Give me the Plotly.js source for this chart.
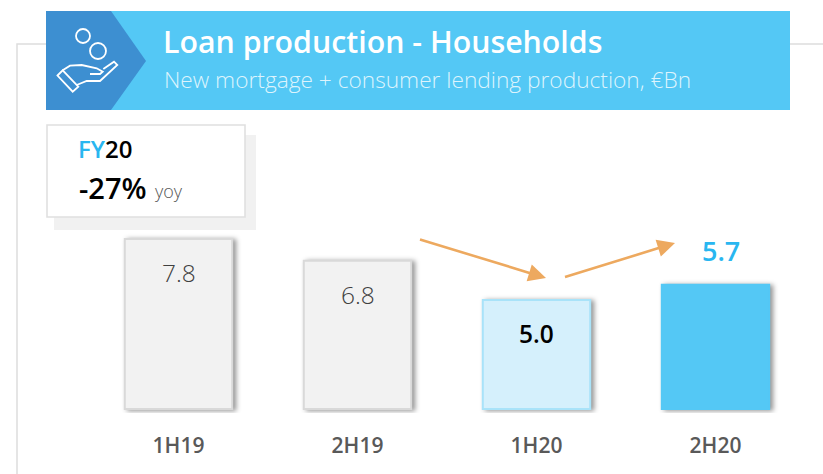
<!DOCTYPE html>
<html>
<head>
<meta charset="utf-8">
<script src="https://cdn.plot.ly/plotly-3.0.1.min.js"></script>
<style>
html,body{margin:0;padding:0;background:#fff;overflow:hidden}
#chart{width:823px;height:474px}
.bars .point path{filter:drop-shadow(3px 1px 2.5px rgba(0,0,0,.42))}
</style>
</head>
<body>
<div id="chart"></div>
<script>
var categories = ['1H19','2H19','1H20','2H20'];
var values = [7.8,6.8,5.0,5.7];
var valueLabels = ['7.8','6.8','5.0','5.7'];
var barColors = ['#F2F2F2','#F2F2F2','#D5F0FC','#54C8F5'];
var barLines = ['#D9D9D9','#D9D9D9','#A9E3F9','#54C8F5'];
var labelColors = ['#404040','#404040','#000000','#29B6F0'];
var labelWeights = [300,300,600,600];
var labelSizes = [24.5,24.5,24.5,27];
var labelShifts = [-34,-34,-33,34];
var labelXShifts = [0,0,0,5];

var W=823,H=474,ml=89,mr=18,mt=230,mb=61;
var px=function(x){return (x-ml)/(W-ml-mr);};
var py=function(y){return 1-(y-mt)/(H-mt-mb);};
var pt=function(a){return px(a[0])+','+py(a[1]);};
function poly(points,close){
  return 'M'+points.map(pt).join(' L')+(close?' Z':'');
}
function rect(x0,y0,x1,y1,fill,line,lw){
  return {type:'rect',xref:'paper',yref:'paper',layer:'below',x0:px(x0),x1:px(x1),y0:py(y0),y1:py(y1),
    fillcolor:fill,line:{color:line||'rgba(0,0,0,0)',width:lw||0}};
}
function path(d,fill,line,lw){
  return {type:'path',xref:'paper',yref:'paper',layer:'below',path:d,fillcolor:fill||'rgba(0,0,0,0)',
    line:{color:line||'rgba(0,0,0,0)',width:lw||0}};
}
function circle(cx,cy,r){
  return {type:'circle',xref:'paper',yref:'paper',layer:'below',x0:px(cx-r),x1:px(cx+r),y0:py(cy-r),y1:py(cy+r),
    line:{color:'#fff',width:1.8},fillcolor:'rgba(0,0,0,0)'};
}
function note(x,y,text,size,color,weight,anchor){
  return {xref:'paper',yref:'paper',x:px(x),y:py(y),text:text,showarrow:false,xanchor:anchor||'left',yanchor:'middle',
    font:{family:FONT,size:size,color:color,weight:weight||400},borderpad:0,borderwidth:0};
}
function arrow(x0,y0,x1,y1){
  return {xref:'paper',yref:'paper',x:px(x1),y:py(y1),axref:'pixel',ayref:'pixel',ax:x0-x1,ay:y0-y1,text:' ',showarrow:true,
    arrowcolor:'#EDA95F',arrowwidth:2.6,arrowhead:2,arrowsize:1.35,standoff:0,startstandoff:0};
}
var FONT='"Open Sans", sans-serif';

var shapes=[
  path(poly([[17,474],[17,44],[46,44]]),null,'#DDDDDD',1.5),
  path(poly([[790,44],[823,44]]),null,'#DDDDDD',1.5),
  rect(46,11,790,110,'#54C8F5'),
  path(poly([[46,11],[111,11],[146,61],[111,110],[46,110]],true),'#3D8FD1'),
  circle(83,36,7),
  circle(98,51,8),
  path(poly([[57.5,75.5],[62.7,70.3],[78.3,86.7],[72.7,91.7]],true),null,'#fff',1.8),
  path(poly([[62.7,70.3],[70,65.7],[81.7,65],[96.7,68.3],[102.7,71.7],[100,74],[90,74]]),null,'#fff',1.8),
  path(poly([[76.7,85],[86.7,81],[100,81],[117.3,65],[114,61.7],[103.3,69]]),null,'#fff',1.8),
  rect(54,135,256,230,'#F1F1F1'),
  rect(47,125,245,217,'#FFFFFF','#E0E0E0',1.6)
];

var annotations=[
  note(162.5,41.5,'Loan production - Households',30.3,'#FFFFFF',600),
  note(164,79,'New mortgage + consumer lending production, €Bn',22.7,'#DDF4FD',300),
  note(78,148,'<span style="color:#29B6F0">FY</span>20',24,'#000000',600),
  note(78.5,187,'-27%',29,'#000000',600),
  note(155,191,'yoy',18,'#555555',300),
  arrow(417,238.5,546,278),
  arrow(562,278,675,243)
];
categories.forEach(function(c,i){
  annotations.push({x:c,y:values[i],xref:'x',yref:'y',xshift:labelXShifts[i],yshift:labelShifts[i],text:valueLabels[i],showarrow:false,
    xanchor:'center',yanchor:'middle',font:{family:FONT,size:labelSizes[i],color:labelColors[i],weight:labelWeights[i]}});
});

Plotly.newPlot('chart',[{
  type:'bar',x:categories,y:values,width:0.6,
  marker:{color:barColors,line:{color:barLines,width:2}},
  hoverinfo:'x+y',cliponaxis:false
}],{
  width:W,height:H,margin:{l:ml,r:mr,t:mt,b:mb,pad:0},
  paper_bgcolor:'#fff',plot_bgcolor:'rgba(0,0,0,0)',showlegend:false,
  font:{family:FONT},
  xaxis:{type:'category',range:[-0.5,3.5],fixedrange:true,showgrid:false,zeroline:false,showline:false,
    ticks:'outside',ticklen:14,tickcolor:'rgba(0,0,0,0)',tickfont:{family:FONT,size:21,color:'#595959',weight:600}},
  yaxis:{range:[-0.18,8.21],fixedrange:true,visible:false},
  shapes:shapes,annotations:annotations
},{displayModeBar:false});
</script>
</body>
</html>
